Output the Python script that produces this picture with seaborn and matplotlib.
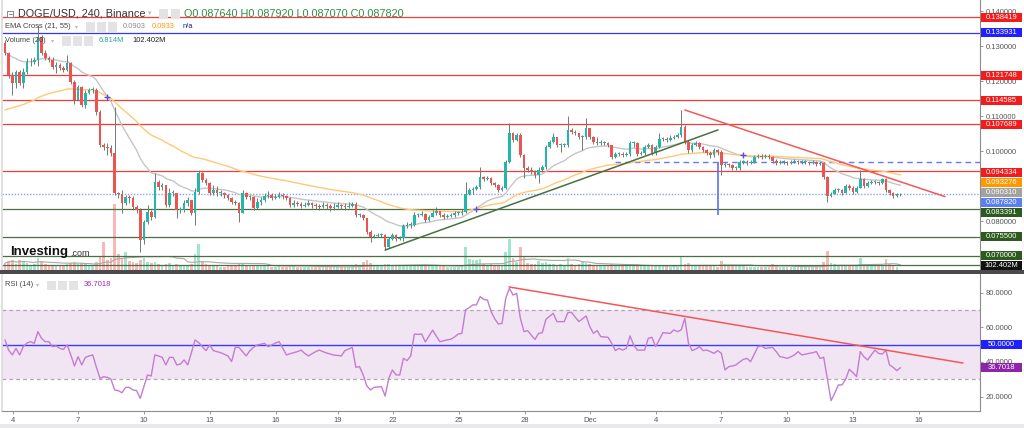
import numpy as np
import pandas as pd
import matplotlib
matplotlib.use("Agg")
import matplotlib.pyplot as plt
import seaborn as sns
from matplotlib.patches import Rectangle
from matplotlib.lines import Line2D
from matplotlib.ticker import FormatStrFormatter

sns.set_theme(style="white")
plt.rcParams["font.family"] = ["Liberation Sans", "DejaVu Sans"]

# ---------------- data (DOGE/USD 4h candles) ----------------
first_open = 0.1310
close = [
    .1281, .1218, .1195, .1227, .1195, .1227, .1255, .1255, .1261, .1327,
    .1281, .1267, .1261, .1241, .1247, .1238, .1233, .1253, .1198, .1147,
    .1184, .1132, .1167, .1175, .1175, .1112, .1018, .1012, .1009, .0995,
    .0880, .0878, .0852, .0869, .0866, .0840, .0832, .0746, .0797, .0826,
    .0812, .0912, .0898, .0903, .0846, .0880, .0880, .0832, .0832, .0852,
    .0860, .0823, .0883, .0938, .0918, .0909, .0880, .0889, .0880, .0880,
    .0875, .0866, .0855, .0852, .0823, .0880, .0869, .0869, .0838, .0855,
    .0860, .0872, .0875, .0866, .0869, .0875, .0872, .0866, .0846, .0852,
    .0849, .0843, .0846, .0852, .0846, .0843, .0840, .0846, .0843, .0838,
    .0840, .0846, .0843, .0840, .0843, .0849, .0817, .0817, .0809, .0769,
    .0755, .0757, .0760, .0760, .0726, .0749, .0760, .0749, .0752, .0786,
    .0789, .0789, .0817, .0817, .0820, .0803, .0812, .0823, .0829, .0817,
    .0812, .0815, .0817, .0823, .0823, .0826, .0878, .0889, .0892, .0898,
    .0926, .0921, .0923, .0909, .0903, .0889, .0895, .0969, .1052, .1032,
    .1046, .0989, .0952, .0946, .0941, .0932, .0946, .0955, .1012, .1026,
    .1041, .1018, .1018, .1018, .1061, .1055, .1052, .1041, .1041, .1066,
    .1041, .1026, .1024, .1024, .1024, .1018, .0984, .0992, .0992, .0989,
    .0992, .1024, .1024, .0992, .0995, .1012, .1018, .0995, .1012, .1035,
    .1035, .1032, .1038, .1041, .1046, .1069, .1026, .1004, .1018, .1024,
    .1012, .1004, .0995, .0989, .1004, .0998, .0961, .0963, .0961, .0952,
    .0952, .0969, .0969, .0966, .0969, .0984, .0986, .0984, .0986, .0984,
    .0972, .0966, .0969, .0969, .0966, .0969, .0972, .0969, .0969, .0969,
    .0966, .0969, .0963, .0966, .0926, .0872, .0878, .0889, .0889, .0880,
    .0900, .0895, .0883, .0895, .0921, .0900, .0909, .0912, .0912, .0909,
    .0921, .0889, .0880, .0872, .08764, .08782,
]
high = [
    .1318, .1284, .1227, .1233, .1233, .1238, .1267, .1267, .1270, .1361,
    .1333, .1290, .1273, .1270, .1255, .1253, .1244, .1275, .1255, .1204,
    .1190, .1187, .1175, .1181, .1184, .1181, .1118, .1024, .1024, .1018,
    .1127, .0883, .0889, .0875, .0875, .0872, .0846, .0838, .0803, .0846,
    .0832, .0938, .0918, .0909, .0903, .0895, .0889, .0860, .0840, .0860,
    .0869, .0860, .0895, .0946, .0941, .0923, .0912, .0903, .0900, .0889,
    .0883, .0878, .0869, .0860, .0855, .0889, .0883, .0875, .0872, .0866,
    .0869, .0880, .0886, .0880, .0878, .0883, .0880, .0875, .0869, .0860,
    .0858, .0855, .0855, .0860, .0855, .0852, .0849, .0855, .0852, .0849,
    .0852, .0855, .0849, .0852, .0855, .0855, .0855, .0823, .0820, .0809,
    .0775, .0763, .0766, .0766, .0763, .0755, .0766, .0763, .0757, .0792,
    .0797, .0797, .0826, .0823, .0829, .0823, .0817, .0832, .0840, .0829,
    .0823, .0820, .0823, .0829, .0829, .0835, .0912, .0895, .0898, .0903,
    .0955, .0929, .0929, .0926, .0912, .0906, .0900, .0975, .1081, .1055,
    .1052, .1052, .0992, .0958, .0955, .0946, .0955, .0961, .1018, .1032,
    .1052, .1041, .1024, .1024, .1101, .1066, .1061, .1052, .1046, .1095,
    .1066, .1044, .1041, .1032, .1029, .1026, .1018, .0998, .0998, .0998,
    .0998, .1029, .1029, .1026, .1001, .1018, .1024, .1021, .1018, .1052,
    .1041, .1041, .1046, .1046, .1052, .1118, .1075, .1032, .1024, .1029,
    .1026, .1015, .1006, .1001, .1009, .1006, .1004, .0969, .0966, .0963,
    .0958, .0975, .0975, .0975, .0975, .0989, .0992, .0992, .0992, .0992,
    .0986, .0978, .0975, .0975, .0972, .0975, .0978, .0975, .0975, .0975,
    .0972, .0975, .0972, .0972, .0969, .0929, .0883, .0895, .0895, .0892,
    .0906, .0906, .0900, .0900, .0946, .0923, .0915, .0918, .0918, .0915,
    .0923, .0923, .0892, .0883, .0880, .08792,
]
low = [
    .1275, .1210, .1161, .1181, .1190, .1181, .1221, .1244, .1250, .1244,
    .1275, .1261, .1255, .1235, .1224, .1233, .1227, .1230, .1192, .1135,
    .1147, .1127, .1124, .1164, .1167, .1104, .1012, .1004, .0989, .0986,
    .0875, .0866, .0823, .0846, .0852, .0832, .0823, .0712, .0735, .0792,
    .0803, .0809, .0889, .0889, .0840, .0840, .0872, .0809, .0823, .0826,
    .0843, .0817, .0789, .0878, .0912, .0903, .0875, .0875, .0872, .0872,
    .0866, .0860, .0849, .0846, .0797, .0823, .0863, .0860, .0832, .0835,
    .0846, .0855, .0866, .0860, .0863, .0866, .0863, .0860, .0840, .0840,
    .0843, .0838, .0840, .0843, .0838, .0835, .0832, .0838, .0835, .0829,
    .0832, .0838, .0835, .0832, .0838, .0840, .0812, .0812, .0803, .0763,
    .0740, .0752, .0755, .0755, .0717, .0723, .0746, .0743, .0746, .0743,
    .0780, .0780, .0786, .0812, .0815, .0797, .0800, .0812, .0817, .0812,
    .0806, .0809, .0812, .0812, .0817, .0817, .0823, .0875, .0878, .0889,
    .0892, .0915, .0918, .0903, .0898, .0883, .0886, .0892, .0966, .1026,
    .1029, .0984, .0923, .0941, .0935, .0923, .0909, .0941, .0949, .1009,
    .1024, .1012, .0998, .1012, .1012, .1049, .1046, .1035, .1004, .1035,
    .1035, .1021, .1018, .1018, .1018, .1012, .0978, .0981, .0986, .0984,
    .0986, .0986, .1012, .0986, .0989, .0989, .1009, .0989, .0989, .1009,
    .1029, .1026, .1029, .1035, .1038, .1041, .1021, .0995, .0998, .1015,
    .1006, .0998, .0989, .0981, .0984, .0989, .0932, .0955, .0955, .0946,
    .0946, .0946, .0963, .0961, .0963, .0966, .0981, .0978, .0981, .0978,
    .0966, .0961, .0963, .0963, .0961, .0963, .0966, .0963, .0963, .0963,
    .0961, .0963, .0958, .0961, .0921, .0855, .0869, .0878, .0883, .0875,
    .0880, .0889, .0878, .0880, .0895, .0895, .0898, .0906, .0906, .0903,
    .0906, .0883, .0875, .0866, .0869, .08707,
]
volume_m = [
    175, 225, 250, 150, 250, 225, 175, 125, 150, 300,
    225, 150, 125, 110, 100, 110, 95, 140, 175, 200,
    150, 175, 140, 100, 90, 200, 350, 700, 250, 300,
    1650, 400, 300, 450, 225, 200, 175, 250, 300, 200,
    175, 200, 150, 125, 150, 175, 110, 150, 125, 110,
    125, 150, 400, 650, 225, 150, 125, 110, 90, 80,
    85, 90, 100, 95, 150, 175, 110, 90, 120, 110,
    95, 110, 90, 85, 80, 90, 85, 80, 110, 95,
    80, 75, 70, 80, 75, 70, 80, 75, 70, 85,
    80, 75, 70, 80, 75, 90, 150, 110, 200, 250,
    175, 125, 110, 100, 150, 140, 120, 110, 100, 125,
    110, 100, 125, 95, 90, 110, 95, 90, 100, 95,
    90, 85, 80, 85, 80, 90, 575, 275, 250, 250,
    275, 150, 125, 140, 120, 130, 125, 450, 775, 300,
    200, 575, 325, 175, 150, 160, 225, 175, 200, 150,
    140, 130, 150, 125, 300, 150, 125, 140, 225, 175,
    150, 125, 110, 100, 95, 100, 150, 110, 100, 90,
    90, 110, 100, 110, 95, 100, 90, 100, 95, 120,
    95, 90, 85, 90, 85, 325, 150, 175, 125, 110,
    100, 110, 100, 95, 90, 85, 225, 150, 110, 100,
    95, 100, 90, 85, 80, 85, 80, 75, 80, 75,
    150, 110, 85, 80, 75, 70, 75, 70, 65, 70,
    70, 75, 90, 85, 200, 475, 175, 150, 125, 110,
    120, 100, 110, 95, 300, 125, 110, 100, 95, 100,
    110, 275, 150, 120, 80, 7,
]
rsi = [
    52.8, 46.9, 44.1, 47.9, 44.1, 48.9, 51.0, 51.8, 50.8, 57.6,
    53.7, 51.8, 51.8, 48.9, 49.3, 47.9, 47.3, 49.9, 44.1, 37.7,
    43.1, 38.3, 42.7, 43.5, 44.1, 37.0, 30.5, 31.5, 31.1, 30.0,
    23.8, 23.4, 22.2, 25.3, 25.3, 23.8, 23.4, 18.9, 25.7, 32.5,
    31.9, 44.1, 43.5, 42.7, 38.3, 42.7, 42.7, 38.3, 38.8, 41.2,
    38.3, 45.4, 52.8, 51.2, 48.9, 46.6, 49.9, 46.6, 46.0, 45.4,
    44.5, 43.5, 40.2, 48.5, 48.5, 46.0, 43.5, 46.6, 48.5, 49.9,
    50.3, 50.8, 48.9, 49.9, 51.0, 51.8, 47.9, 44.1, 44.8, 45.4,
    46.0, 46.9, 45.0, 43.5, 44.8, 46.0, 46.9, 46.0, 45.2, 44.6,
    44.0, 43.8, 43.5, 46.6, 47.5, 48.5, 36.9, 37.3, 32.5, 26.1,
    23.8, 25.3, 25.5, 25.7, 20.3, 30.5, 35.4, 32.5, 32.5, 42.1,
    40.8, 43.5, 56.2, 56.0, 56.2, 51.6, 55.0, 58.5, 55.0, 51.8,
    52.3, 52.8, 53.2, 54.5, 56.2, 56.6, 70.2, 71.5, 73.1, 73.1,
    77.9, 76.3, 75.9, 69.2, 65.0, 62.0, 62.4, 76.9, 82.7, 78.8,
    79.8, 65.3, 57.6, 58.2, 55.5, 53.1, 56.6, 57.0, 64.7, 66.5,
    68.2, 63.4, 63.4, 63.4, 68.6, 68.8, 66.0, 63.4, 65.0, 66.7,
    60.5, 56.6, 58.2, 54.7, 54.5, 54.3, 50.8, 46.6, 47.9, 46.9,
    47.9, 55.1, 49.9, 46.9, 46.9, 46.9, 53.7, 54.3, 48.9, 52.8,
    57.0, 56.8, 56.6, 58.6, 57.6, 58.6, 65.3, 50.8, 46.6, 47.5,
    48.9, 46.6, 46.9, 46.0, 45.0, 46.6, 45.0, 35.4, 37.3, 37.7,
    38.3, 40.0, 41.5, 42.1, 40.2, 44.5, 48.9, 49.3, 47.9, 48.2,
    48.5, 46.0, 43.1, 42.7, 42.1, 43.0, 44.1, 46.0, 44.1, 44.5,
    45.0, 45.4, 46.0, 42.1, 42.7, 30.0, 17.6, 21.8, 26.7, 26.7,
    30.0, 35.8, 33.8, 31.5, 46.0, 43.0, 41.2, 44.1, 46.9, 45.0,
    44.6, 46.9, 38.3, 36.9, 35.0, 36.7018,
]
ema21_seed = 0.1283
ema55_seed = 0.1118

tick_pos = [2.2, 20, 38, 56.1, 74.1, 91.1, 106.2, 124.2, 142.3, 160.1,
            178.1, 195.9, 213.9, 232, 250.1]
tick_labels = ["4", "7", "10", "13", "16", "19", "22", "25", "28", "Dec",
               "4", "7", "10", "13", "16"]
price_ticks = [0.08, 0.10, 0.11, 0.12, 0.13, 0.14]
rsi_ticks = [20, 40, 60, 80]

RED_L, BLUE_L, GREEN_L = "#f23b3b", "#3535ff", "#4d6e40"
level_values = [0.138419, 0.133931, 0.121748, 0.114585, 0.107689, 0.094334,
                0.083391, 0.075500, 0.070000, 0.0673]
level_colors = [RED_L, BLUE_L, RED_L, RED_L, RED_L, RED_L,
                GREEN_L, GREEN_L, GREEN_L, GREEN_L]
last_price = 0.087820
dash_level = 0.0970
dash_start = 167
vline_x, vline_y = 195.1, (0.0817, 0.0970)
support_x, support_y = [104.0, 195.1], [0.0717, 0.1061]
resist_x, resist_y = [186.0, 257.2], [0.1118, 0.0870]
rsi_trend_x, rsi_trend_y = [137.9, 262.1], [83.5, 39.4]

# right-hand value boxes: text, value, colour, downward offset (px) from stacking
price_boxes = [
    ("0.138419", 0.138419, "#f21c1c", 0), ("0.133931", 0.133931, "#2020ff", 0),
    ("0.121748", 0.121748, "#f21c1c", 0), ("0.114585", 0.114585, "#f21c1c", 0),
    ("0.107689", 0.107689, "#f21c1c", 0), ("0.094334", 0.094334, "#f21c1c", 1.7),
    ("0.093276", 0.093276, "#ff9800", 7.6), ("0.090310", 0.090310, "#a2a2a2", 7.7),
    ("0.087820", 0.087820, "#5b7ff0", 9.0), ("0.083391", 0.083391, "#2d5a1e", 3.5),
    ("0.075500", 0.075500, "#2d5a1e", 0), ("0.070000", 0.070000, "#2d5a1e", 0),
]
rsi_boxes = [("50.0000", 50.0, "#2020ff"), ("36.7018", 36.7018, "#8e24aa")]

assert len(close) == len(high) == len(low) == len(volume_m) == len(rsi)

# ---------------- figure ----------------
W, H = 1024, 428
fig = plt.figure(figsize=(W / 100, H / 100), dpi=100)
fig.patch.set_facecolor("white")


def fx(px):
    return px / W


def fy(py):
    return 1 - py / H


X0, X1 = 2, 980
ax = fig.add_axes([fx(X0), fy(270), (X1 - X0) / W, 270 / H])
rax = fig.add_axes([fx(X0), fy(411), (X1 - X0) / W, (411 - 274) / H])

n = len(close)
idx = np.arange(n)
c = np.array(close)
o = np.r_[first_open, c[:-1]]
hi = np.maximum.reduce([np.array(high), o, c])
lo = np.minimum.reduce([np.array(low), o, c])
up = c >= o
UP, DN = "#22b7aa", "#ef5350"
cols = np.where(up, UP, DN)

X_START, X_STEP = 5, 3.655
xlim = ((X0 - X_START) / X_STEP, (X1 - X_START) / X_STEP)

# volume on twin axis, behind the candles
vax = ax.twinx()
ax.set_zorder(vax.get_zorder() + 1)
ax.patch.set_visible(False)
vol = np.array(volume_m, dtype=float)
vax.bar(idx, vol, width=0.72, color=np.where(up, "#a3e4cd", "#f8b9b6"), linewidth=0)
vol_ma = pd.Series(vol).rolling(20, min_periods=1).mean()
sns.lineplot(x=idx, y=vol_ma.values, ax=vax, color="#a8a8a8", linewidth=0.8)
vax.set_ylim(0, 6750)
vax.set_xlim(*xlim)
vax.axis("off")

# levels
for v, col in zip(level_values, level_colors):
    ax.axhline(v, color=col, lw=0.9, zorder=1)
ax.axhline(last_price, color="#86a2f6", lw=1.0, ls=(0, (1, 1.2)), zorder=1)
ax.hlines(dash_level, dash_start, xlim[1], color="#6478ff", lw=1.0, ls=(0, (4, 3)), zorder=1)


# EMAs
def ema(values, span, seed):
    a = 2.0 / (span + 1)
    out = [seed]
    for v in values[1:]:
        out.append(a * v + (1 - a) * out[-1])
    return np.array(out)


e21 = ema(c, 21, ema21_seed)
e55 = ema(c, 55, ema55_seed)
sns.lineplot(x=idx, y=e21, ax=ax, color="#c6c6c6", linewidth=1.0, zorder=2)
sns.lineplot(x=idx, y=e55, ax=ax, color="#ffc978", linewidth=1.0, zorder=2)
sgn = np.sign(e21 - e55)
cross = np.where(np.diff(sgn) != 0)[0] + 1
ax.scatter(idx[cross], e21[cross], marker="+", s=16, color="#5a4fd0", linewidths=1.0, zorder=6)

# candles
ax.vlines(idx, lo, hi, color="#6f7a70", lw=0.7, zorder=3)
body = np.maximum(np.abs(c - o), 0.00018)
ax.bar(idx, body, bottom=np.minimum(o, c), width=0.72, color=cols, linewidth=0, zorder=4)

# drawings
ax.plot(support_x, support_y, color="#4a7040", lw=1.1, zorder=5)
ax.plot(resist_x, resist_y, color="#f25858", lw=1.1, zorder=5)
ax.vlines(vline_x, *vline_y, color="#5d6ff5", lw=1.2, zorder=5)

ax.set_xlim(*xlim)
ax.set_ylim(0.06599, 0.14329)
ax.set_xticks([])
ax.yaxis.tick_right()
ax.set_yticks(price_ticks)
ax.yaxis.set_major_formatter(FormatStrFormatter("%.6f"))
ax.tick_params(axis="y", right=True, left=False, labelright=True, labelleft=False,
               length=2.5, width=0.6, color="#888888", pad=1.5, labelsize=5.5,
               labelcolor="#555555")
ax.set_xlabel("")
ax.set_ylabel("")
for s in ["top", "bottom"]:
    ax.spines[s].set_visible(False)
ax.spines["left"].set_color("#dddddd")
ax.spines["right"].set_color("#8c8c8c")
ax.spines["right"].set_linewidth(0.8)

# RSI
rax.axhspan(30, 70, facecolor="#f2e5f3", edgecolor="none", zorder=0)
rax.axhline(70, color="#b0a6b0", lw=0.9, ls=(0, (3, 2.5)), zorder=1)
rax.axhline(30, color="#b0a6b0", lw=0.9, ls=(0, (3, 2.5)), zorder=1)
rax.axhline(50, color="#3a3aff", lw=1.0, zorder=1)
sns.lineplot(x=idx, y=rsi, ax=rax, color="#c37dd0", linewidth=1.0, zorder=3)
rax.plot(rsi_trend_x, rsi_trend_y, color="#f25858", lw=1.1, zorder=4)
rax.set_xlim(*xlim)
rax.set_ylim(11.6, 91.0)
rax.yaxis.tick_right()
rax.set_yticks(rsi_ticks)
rax.yaxis.set_major_formatter(FormatStrFormatter("%.4f"))
rax.tick_params(axis="y", right=True, left=False, labelright=True, labelleft=False,
                length=2.5, width=0.6, color="#888888", pad=1.5, labelsize=5.5,
                labelcolor="#555555")
rax.set_xticks(tick_pos)
rax.set_xticklabels(tick_labels)
rax.tick_params(axis="x", bottom=True, length=2.5, width=0.6, color="#888888",
                labelsize=5.5, labelcolor="#555555", pad=2)
rax.set_xlabel("")
rax.set_ylabel("")
rax.spines["top"].set_visible(False)
rax.spines["left"].set_color("#dddddd")
for s in ["bottom", "right"]:
    rax.spines[s].set_color("#8c8c8c")
    rax.spines[s].set_linewidth(0.8)

# separators
fig.add_artist(Rectangle((0, fy(274)), 1, 4 / H, facecolor="#4a4a4a",
                         edgecolor="none", transform=fig.transFigure, zorder=3))
fig.add_artist(Rectangle((0, 0), 1, 4 / H, facecolor="#e9e9ec",
                         edgecolor="none", transform=fig.transFigure, zorder=3))


def ypix(axis, v):
    return H - axis.transData.transform((0, v))[1]


def value_box(ypx, text, face, tcol="white"):
    fig.add_artist(Rectangle((fx(981), fy(ypx + 4.5)), 41 / W, 9 / H, facecolor=face,
                             edgecolor="none", transform=fig.transFigure, zorder=5))
    fig.text(fx(1001.5), fy(ypx), text, ha="center", va="center", fontsize=5.5,
             color=tcol, zorder=6)


for txt, v, col, dy in price_boxes:
    value_box(ypix(ax, v) + dy, txt, col)
value_box(ypix(vax, 102.402), "102.402M", "#111111")
for txt, v, col in rsi_boxes:
    value_box(ypix(rax, v), txt, col)


# legend rows
def ft(x, y, s, size=5.4, color="#444444", **kw):
    fig.text(fx(x), fy(y), s, fontsize=size, color=color, ha="left", va="center",
             zorder=7, **kw)


def icon(x0, y0, w=9, h=9):
    fig.add_artist(Rectangle((fx(x0), fy(y0 + h)), w / W, h / H, facecolor="#e3e3e3",
                             edgecolor="none", transform=fig.transFigure, zorder=7))


fig.add_artist(Rectangle((fx(7), fy(17)), 6 / W, 6 / H, facecolor="white",
                         edgecolor="#777777", lw=0.6, transform=fig.transFigure, zorder=7))
fig.add_artist(Line2D([fx(8.5), fx(11.5)], [fy(14), fy(14)], color="#777777", lw=0.6,
                      transform=fig.transFigure, zorder=8))
ft(18, 14, "DOGE/USD, 240, Binance", size=7.8, color="#333333")
ft(148, 13.5, "▾", size=5, color="#bbbbbb", family=["DejaVu Sans"])
for x0 in (159, 171):
    icon(x0, 9.5)
ft(184, 14, "O0.087640 H0.087920 L0.087070 C0.087820", size=7.8, color="#2f8f46")

ft(5, 27, "EMA Cross (21, 55)")
ft(75, 27, "▾", size=4.5, color="#bbbbbb", family=["DejaVu Sans"])
for x0 in (86, 97, 108):
    icon(x0, 22.5)
ft(123, 27, "0.0903", color="#8a8a8a")
ft(152, 27, "0.0933", color="#ff9800")
ft(183, 27, "n/a", color="#1a237e")

ft(5, 41, "Volume (20)")
ft(51, 41, "▾", size=4.5, color="#bbbbbb", family=["DejaVu Sans"])
for x0 in (62, 73, 84):
    icon(x0, 36.5)
ft(99, 41, "6.814M", color="#26a69a")
ft(132, 41, "102.402M", color="#222222")

ft(5, 285, "RSI (14)")
ft(36, 285, "▾", size=4.5, color="#bbbbbb", family=["DejaVu Sans"])
for x0 in (47, 58, 69):
    icon(x0, 280.5)
ft(84, 285, "36.7018", color="#9c27b0")

ft(10, 252, "Investing", size=9.5, color="#111111", weight="bold")
ft(70, 254, ".com", size=6.5, color="#333333")

fig.savefig("out.png", dpi=100, facecolor="white")
